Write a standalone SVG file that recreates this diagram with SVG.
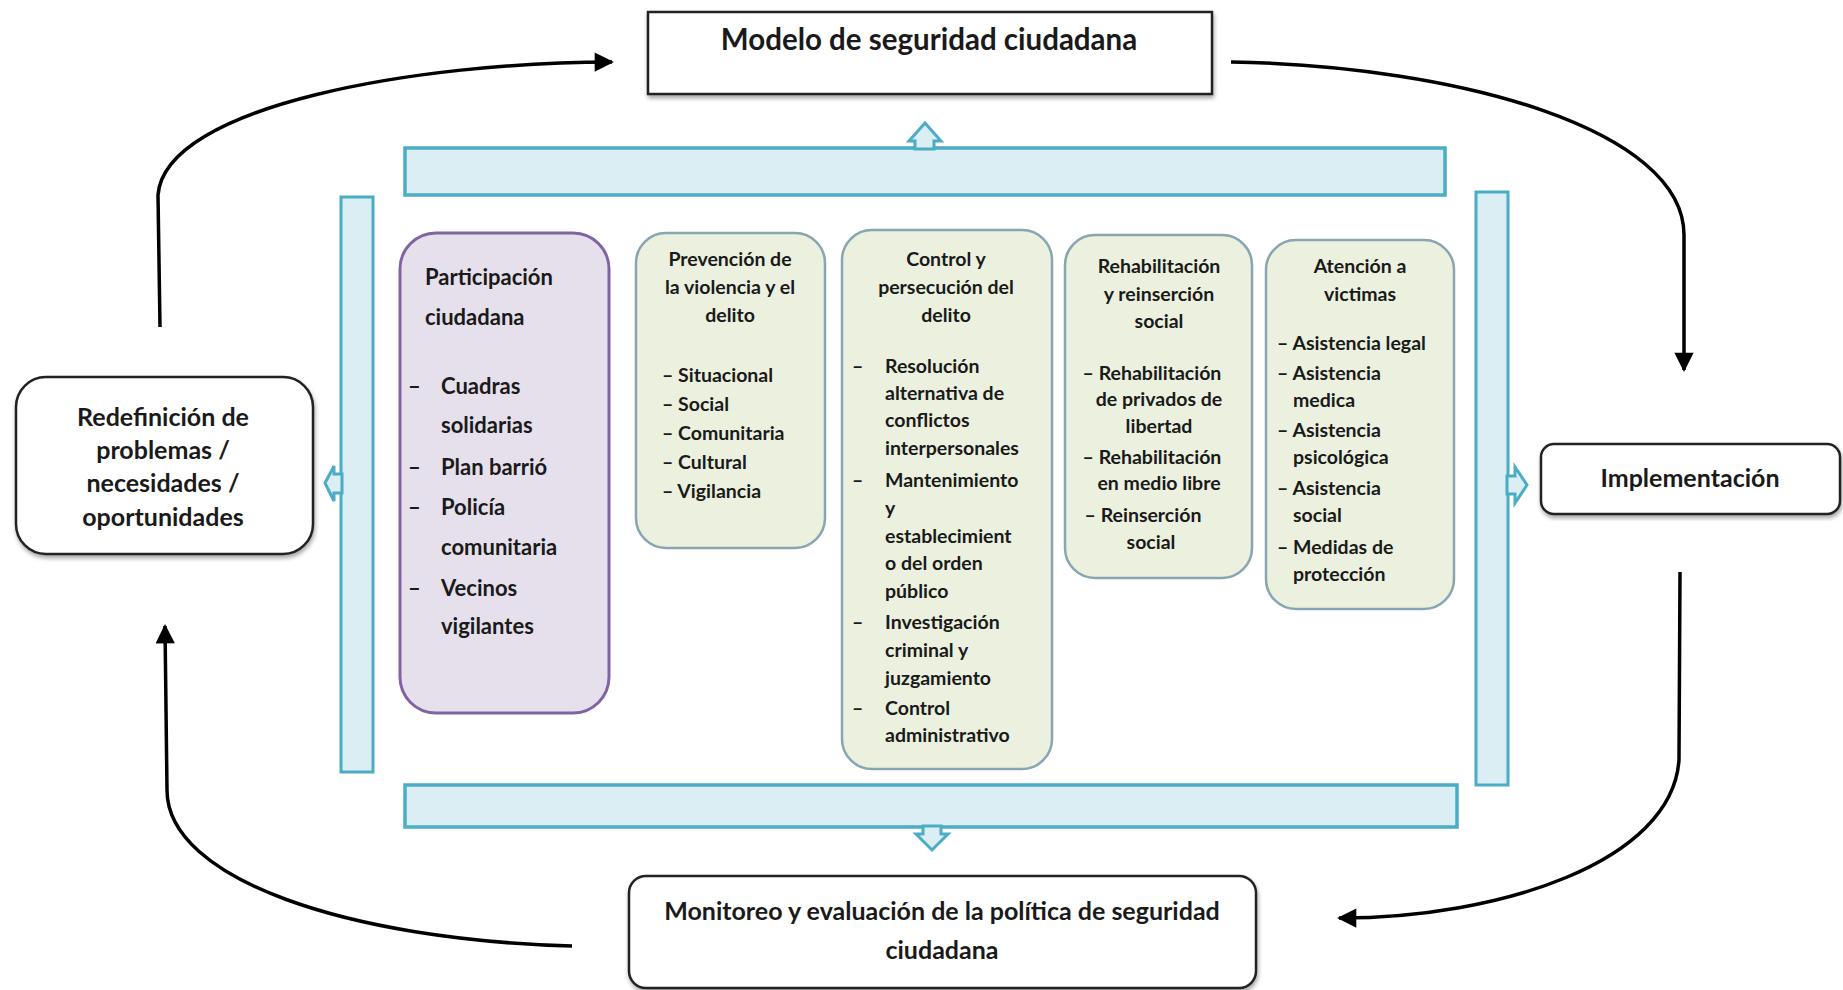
<svg xmlns="http://www.w3.org/2000/svg" width="1843" height="990" viewBox="0 0 1843 990">
<defs>
<style>
text{font-family:Lato,"Liberation Sans",Arial,sans-serif;font-weight:bold;fill:#1a1a1a}
.t30{font-size:29.5px}
.t25{font-size:25px}
.t22{font-size:22px}
.t18{font-size:19.5px}
.c{text-anchor:middle}
.bar{fill:#daeef3;stroke:#4bacc6;stroke-width:3.5}
.barr{fill:#daeef3;stroke:#4bacc6;stroke-width:3}
.purple{fill:#e5e0ec;stroke:#8064a2;stroke-width:3}
.green{fill:#ebf1de;stroke:#87a5b2;stroke-width:2.5}
.blk{fill:#fff;stroke:#222;stroke-width:2.5}
.conn{fill:none;stroke:#000;stroke-width:3.5}
.harrow{fill:#daeef3;stroke:#4bacc6;stroke-width:3;stroke-linejoin:miter}
</style>
<marker id="ah" viewBox="0 0 10 10" refX="9" refY="5" markerWidth="6" markerHeight="5.5" orient="auto" markerUnits="strokeWidth">
<path d="M0,0 L10,5 L0,10 z" fill="#000"/>
</marker>
<filter id="sh" x="-5%" y="-5%" width="110%" height="115%">
<feDropShadow dx="1" dy="3" stdDeviation="2" flood-color="#000" flood-opacity="0.35"/>
</filter>
</defs>

<g id="connectors">
<path class="conn" d="M160,327 L158,195 C165,105 420,62 612,62" marker-end="url(#ah)"/>
<path class="conn" d="M1231,62 C1460,66 1684,130 1684,235 L1684,370" marker-end="url(#ah)"/>
<path class="conn" d="M1680,572 L1679,760 C1672,862 1500,918 1339,918" marker-end="url(#ah)"/>
<path class="conn" d="M572,946 C350,940 167,880 167,790 L165,626" marker-end="url(#ah)"/>
</g>

<g id="frame">
<rect class="bar" x="405" y="148" width="1040" height="47"/>
<rect class="bar" x="405" y="785" width="1052" height="42"/>
<rect class="barr" x="341" y="197" width="32" height="575"/>
<rect class="barr" x="1476" y="192" width="32" height="593"/>
<polygon class="harrow" points="915,149 915,141 909,141 925,123 941,141 934,141 934,149"/>
<polygon class="harrow" points="923,826 923,834 916,834 932,850 948,834 941,834 941,826"/>
<polygon class="harrow" points="342,474 334,474 334,466 325,483 334,501 334,493 342,493"/>
<polygon class="harrow" points="1507,476 1515,476 1515,467 1527,485 1515,503 1515,494 1507,494"/>
</g>

<g id="n-modelo">
<rect class="blk" x="648" y="12" width="564" height="82" filter="url(#sh)"/>
<text class="t30 c" x="929" y="50">Modelo de seguridad ciudadana</text>
</g>

<g id="n-redefinicion">
<rect class="blk" x="16" y="377" width="297" height="177" rx="30" filter="url(#sh)"/>
<text class="t25 c" x="163" y="426">Redefinición de</text>
<text class="t25 c" x="163" y="459">problemas /</text>
<text class="t25 c" x="163" y="492">necesidades /</text>
<text class="t25 c" x="163" y="526">oportunidades</text>
</g>

<g id="n-implementacion">
<rect class="blk" x="1541" y="444" width="299" height="70" rx="13" filter="url(#sh)"/>
<text class="t25 c" x="1690" y="487">Implementación</text>
</g>

<g id="n-monitoreo">
<rect class="blk" x="629" y="876" width="627" height="112" rx="17" filter="url(#sh)"/>
<text class="t25 c" x="942" y="920">Monitoreo y evaluación de la política de seguridad</text>
<text class="t25 c" x="942" y="959">ciudadana</text>
</g>

<g id="n-participacion">
<rect class="purple" x="400" y="233" width="209" height="480" rx="36"/>
<text class="t22" x="425" y="285">Participación</text>
<text class="t22" x="425" y="325">ciudadana</text>
<text class="t22" x="408" y="394">–</text><text class="t22" x="441" y="394">Cuadras</text>
<text class="t22" x="441" y="433">solidarias</text>
<text class="t22" x="408" y="475">–</text><text class="t22" x="441" y="475">Plan barrió</text>
<text class="t22" x="408" y="515">–</text><text class="t22" x="441" y="515">Policía</text>
<text class="t22" x="441" y="555">comunitaria</text>
<text class="t22" x="408" y="596">–</text><text class="t22" x="441" y="596">Vecinos</text>
<text class="t22" x="441" y="634">vigilantes</text>
</g>

<g id="n-prevencion">
<rect class="green" x="636" y="233" width="189" height="315" rx="30"/>
<text class="t18 c" x="730" y="266">Prevención de</text>
<text class="t18 c" x="730" y="294">la violencia y el</text>
<text class="t18 c" x="730" y="322">delito</text>
<text class="t18" x="662" y="382">– Situacional</text>
<text class="t18" x="662" y="411">– Social</text>
<text class="t18" x="662" y="440">– Comunitaria</text>
<text class="t18" x="662" y="469">– Cultural</text>
<text class="t18" x="662" y="498">– Vigilancia</text>
</g>

<g id="n-control">
<rect class="green" x="842" y="230" width="210" height="539" rx="30"/>
<text class="t18 c" x="946" y="266">Control y</text>
<text class="t18 c" x="946" y="294">persecución del</text>
<text class="t18 c" x="946" y="322">delito</text>
<text class="t18" x="852" y="373">–</text><text class="t18" x="885" y="373">Resolución</text>
<text class="t18" x="885" y="400">alternativa de</text>
<text class="t18" x="885" y="427">conflictos</text>
<text class="t18" x="885" y="455">interpersonales</text>
<text class="t18" x="852" y="487">–</text><text class="t18" x="885" y="487">Mantenimiento</text>
<text class="t18" x="885" y="515">y</text>
<text class="t18" x="885" y="543">establecimient</text>
<text class="t18" x="885" y="570">o del orden</text>
<text class="t18" x="885" y="598">público</text>
<text class="t18" x="852" y="629">–</text><text class="t18" x="885" y="629">Investigación</text>
<text class="t18" x="885" y="657">criminal y</text>
<text class="t18" x="885" y="685">juzgamiento</text>
<text class="t18" x="852" y="715">–</text><text class="t18" x="885" y="715">Control</text>
<text class="t18" x="885" y="742">administrativo</text>
</g>

<g id="n-rehabilitacion">
<rect class="green" x="1065" y="235" width="187" height="343" rx="30"/>
<text class="t18 c" x="1159" y="273">Rehabilitación</text>
<text class="t18 c" x="1159" y="301">y reinserción</text>
<text class="t18 c" x="1159" y="328">social</text>
<text class="t18 c" x="1152" y="380">– Rehabilitación</text>
<text class="t18 c" x="1159" y="406">de privados de</text>
<text class="t18 c" x="1159" y="433">libertad</text>
<text class="t18 c" x="1152" y="464">– Rehabilitación</text>
<text class="t18 c" x="1159" y="490">en medio libre</text>
<text class="t18 c" x="1143" y="522">– Reinserción</text>
<text class="t18 c" x="1151" y="549">social</text>
</g>

<g id="n-atencion">
<rect class="green" x="1266" y="240" width="188" height="369" rx="30"/>
<text class="t18 c" x="1360" y="273">Atención a</text>
<text class="t18 c" x="1360" y="301">victimas</text>
<text class="t18" x="1277" y="350">– Asistencia legal</text>
<text class="t18" x="1277" y="380">– Asistencia</text>
<text class="t18" x="1293" y="407">medica</text>
<text class="t18" x="1277" y="437">– Asistencia</text>
<text class="t18" x="1293" y="464">psicológica</text>
<text class="t18" x="1277" y="495">– Asistencia</text>
<text class="t18" x="1293" y="522">social</text>
<text class="t18" x="1277" y="554">– Medidas de</text>
<text class="t18" x="1293" y="581">protección</text>
</g>
</svg>
